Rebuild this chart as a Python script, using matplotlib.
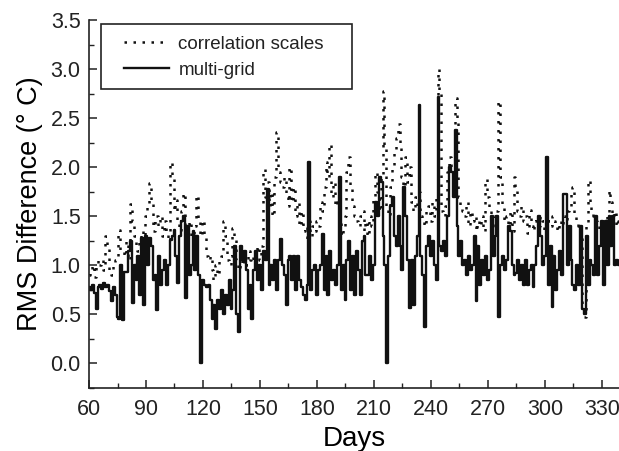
import numpy as np
import matplotlib.pyplot as plt
from matplotlib.patches import Rectangle
from matplotlib.ticker import MultipleLocator

# day numbers 60..339
days = np.arange(60, 340)

# multi-grid RMS difference (solid)
multi_grid = [
    0.78, 0.75, 0.80, 0.72, 0.56, 0.78, 0.80, 0.76, 0.82, 0.78,
    0.80, 0.74, 0.64, 0.78, 0.70, 0.47, 0.45, 1.00, 0.44, 0.93,
    0.93, 1.15, 1.25, 0.62, 1.00, 0.85, 1.10, 0.70, 1.28, 0.60,
    1.30, 1.00, 1.28, 1.20, 0.85, 0.90, 0.54, 1.10, 0.80, 0.95,
    1.05, 0.80, 1.00, 1.26, 1.30, 1.36, 1.10, 0.82, 1.30, 1.45,
    1.50, 0.67, 1.40, 0.90, 1.00, 1.35, 0.95, 1.30, 0.90, 0.00,
    0.85, 0.80, 0.78, 0.80, 0.65, 0.45, 0.60, 0.35, 0.65, 0.55,
    0.75, 0.50, 0.70, 0.60, 0.85, 0.55, 0.75, 1.20, 0.50, 0.32,
    1.20, 1.05, 1.15, 0.95, 0.55, 0.80, 0.45, 0.95, 1.15, 0.85,
    1.00, 0.75, 1.15, 1.05, 1.78, 0.80, 1.00, 0.85, 1.05, 0.75,
    1.05, 1.27, 1.00, 0.90, 0.60, 1.05, 1.10, 0.85, 1.10, 0.75,
    1.10, 0.85, 0.78, 0.70, 0.65, 0.80, 2.05, 0.75, 0.95, 1.00,
    0.70, 0.95, 1.00, 1.32, 0.75, 1.10, 0.70, 1.15, 0.85, 0.95,
    0.80, 1.00, 1.90, 0.75, 1.00, 0.65, 1.05, 1.25, 0.75, 1.10,
    0.70, 1.15, 0.95, 0.70, 1.25, 1.30, 0.90, 0.90, 1.10, 0.85,
    1.00, 1.65, 1.50, 1.90, 1.85, 1.30, 1.00, 0.00, 1.10, 1.60,
    1.70, 1.30, 1.20, 1.50, 1.20, 0.95, 1.80, 1.50, 1.05, 0.57,
    1.05, 0.60, 1.10, 1.30, 2.63, 1.10, 0.90, 0.37, 1.20, 1.30,
    1.10, 1.25, 1.00, 0.85, 2.72, 1.20, 1.15, 1.25, 1.10, 1.50,
    2.00, 1.95, 1.70, 2.38, 1.40, 1.10, 1.25, 1.00, 1.05, 0.90,
    1.10, 0.95, 1.00, 1.30, 0.64, 1.20, 0.80, 1.05, 0.90, 1.10,
    0.85, 0.95, 1.50, 1.10, 1.30, 1.50, 0.47, 1.00, 1.10, 0.95,
    1.05, 1.40, 1.35, 1.00, 0.90, 0.92, 1.05, 0.85, 1.00, 0.80,
    1.05, 0.80, 0.95, 1.00, 0.78, 1.00, 1.20, 1.50, 1.30, 1.00,
    1.10, 2.10, 0.80, 1.20, 0.58, 1.10, 0.75, 0.95, 1.15, 0.90,
    1.73, 1.73, 1.00, 1.40, 1.05, 0.80, 0.75, 1.00, 0.80, 1.40,
    0.55, 0.50, 1.30, 0.80, 1.05, 1.00, 0.90, 1.50, 0.90, 1.20,
    1.45, 0.80, 1.45, 1.00, 1.50, 1.20, 1.50, 1.00, 1.05, 1.00,
]

# correlation-scales RMS difference (dotted)
corr_scales = [
    0.90, 0.95, 1.00, 0.88, 1.00, 1.05, 1.00, 1.05, 0.95, 1.30,
    1.20, 0.95, 0.90, 1.00, 1.05, 1.10, 1.36, 1.15, 1.15, 1.10,
    1.25, 1.05, 1.62, 1.45, 1.30, 1.20, 1.15, 1.25, 1.35, 1.25,
    1.50, 1.60, 1.84, 1.65, 1.35, 1.45, 1.50, 1.40, 1.50, 1.30,
    1.45, 1.35, 1.25, 2.05, 1.90, 1.55, 1.67, 1.45, 1.35, 1.55,
    1.74, 1.40, 1.35, 1.45, 1.30, 1.25, 1.40, 1.72, 1.45, 1.30,
    1.46, 1.30, 1.10, 1.05, 1.10, 0.95, 0.85, 1.00, 0.90, 1.05,
    1.10, 1.45, 1.30, 1.05, 1.00, 1.10, 1.38, 1.30, 1.05, 0.95,
    1.10, 1.00, 1.05, 1.00, 1.15, 1.05, 1.10, 1.00, 1.15, 1.20,
    1.05, 1.20, 1.98, 1.70, 1.85, 1.60, 1.75, 1.50, 1.90, 2.36,
    1.95, 1.85, 1.80, 1.90, 1.70, 1.60, 2.00, 1.65, 1.80, 1.50,
    1.65, 1.40, 1.55, 1.35, 1.40, 1.25, 1.45, 1.30, 1.40, 1.35,
    1.45, 1.40, 1.65, 1.55, 1.80, 2.05, 1.90, 2.24, 1.70, 1.85,
    1.60, 1.65, 1.45, 1.30, 1.40, 1.50, 1.95, 2.10, 1.80, 1.60,
    1.50, 1.45, 1.40, 1.50, 1.55, 1.35, 1.45, 1.30, 1.50, 1.40,
    1.70, 1.95, 1.75, 1.55, 1.90, 2.78, 2.20, 1.60, 1.50, 1.80,
    2.00, 2.15, 2.30, 2.44, 2.20, 1.90, 1.80, 2.10, 1.85, 2.00,
    1.65, 1.55, 1.70, 1.60, 1.75, 1.50, 1.45, 1.40, 1.55, 1.60,
    1.45, 1.65, 1.50, 1.70, 3.00, 2.75, 1.55, 1.50, 1.60, 1.95,
    2.10, 2.00, 1.80, 2.70, 2.45, 1.70, 1.60, 1.55, 1.50, 1.65,
    1.40, 1.55, 1.45, 1.50, 1.35, 1.45, 1.40, 1.50, 1.35, 1.88,
    1.70, 1.55, 1.45, 1.50, 1.40, 1.55, 2.67, 1.90, 1.60, 1.45,
    1.50, 1.40, 1.55, 1.35, 1.90, 1.78, 1.55, 1.50, 1.60, 1.45,
    1.50, 1.33, 1.56, 1.40, 1.35, 1.45, 1.50, 1.40, 1.50, 1.45,
    1.35, 1.50, 1.45, 1.40, 1.50, 1.45, 1.40, 1.35, 1.45, 1.40,
    1.50, 1.45, 1.55, 1.60, 1.75, 1.80, 1.50, 1.45, 1.40, 1.30,
    0.60, 0.47, 1.40, 1.87, 1.60, 1.55, 1.50, 1.45, 1.40, 1.35,
    1.45, 1.40, 1.35, 1.50, 1.77, 1.65, 1.45, 1.55, 1.40, 1.45,
]

INK = "#222222"
plt.rcParams.update({
    "font.family": ["Liberation Sans", "DejaVu Sans"],
    "text.color": INK,
    "axes.edgecolor": INK,
    "xtick.color": INK,
    "ytick.color": INK,
})

fig = plt.figure(figsize=(6.19, 4.51), dpi=100)
ax = fig.add_axes([0.1438, 0.1397, 0.8562, 0.816])

ax.plot(days, corr_scales, color="#111111", lw=1.8, ls=(0, (1.0, 2.6)),
        drawstyle="steps-mid", dash_capstyle="butt", label="correlation scales")
ax.plot(days, multi_grid, color="#111111", lw=1.7,
        drawstyle="steps-mid", label="multi-grid")

ax.set_xlim(60, 339)
ax.set_ylim(-0.25, 3.5)
ax.xaxis.set_major_locator(MultipleLocator(30))
ax.xaxis.set_minor_locator(MultipleLocator(15))
ax.yaxis.set_major_locator(MultipleLocator(0.5))
ax.yaxis.set_minor_locator(MultipleLocator(0.25))
ax.tick_params(which="major", direction="in", length=6, width=1.1, labelsize=15.5)
ax.tick_params(which="minor", direction="in", length=3.5, width=1.0)
ax.tick_params(axis="x", pad=8)
ax.tick_params(axis="y", pad=6)
ax.yaxis.set_major_formatter(plt.FuncFormatter(lambda v, p: f"{v:.1f}"))

for side in ("top", "right"):
    ax.spines[side].set_visible(False)
for side in ("left", "bottom"):
    ax.spines[side].set_linewidth(1.2)

ax.set_xlabel("Days", fontsize=20, labelpad=4)
ax.set_ylabel("RMS Difference (° C)", fontsize=19.5, labelpad=5)

# legend box drawn separately (wider side padding than the text rows)
ax.add_patch(Rectangle((0.0226, 0.8125), 0.4736, 0.1765, transform=ax.transAxes,
                       fill=True, facecolor="white", edgecolor=INK, lw=1.2,
                       zorder=4))
leg = ax.legend(loc="upper left", bbox_to_anchor=(0.066, 0.958), fontsize=13.5,
                frameon=False, handlelength=2.4, handletextpad=0.5,
                borderpad=0, labelspacing=0.5, borderaxespad=0)
leg.set_zorder(5)

fig.savefig("out.png", dpi=100)
